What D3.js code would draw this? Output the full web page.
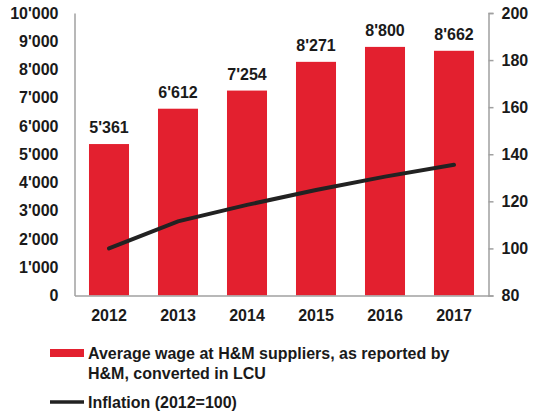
<!DOCTYPE html>
<html><head><meta charset="utf-8">
<script src="https://cdn.jsdelivr.net/npm/d3@7"></script>
<style>body{margin:0;background:#fff}svg text{font-family:"Liberation Sans",Arial,sans-serif;font-weight:bold;fill:#1a1a1a}</style>
</head><body><svg id="c" width="536" height="418"></svg>
<script>
const years = ["2012","2013","2014","2015","2016","2017"];
const wages = [5361, 6612, 7254, 8271, 8800, 8662];
const inflation = [100, 111.5, 118.5, 124.8, 130.5, 135.5];
const leftTicks = [0,1000,2000,3000,4000,5000,6000,7000,8000,9000,10000];
const rightTicks = [80,100,120,140,160,180,200];
const legendLabels = ["Average wage at H&M suppliers, as reported by", "H&M, converted in LCU", "Inflation (2012=100)"];

const svg = d3.select("#c");
const x0 = 74.5, x1 = 488.5, yTop = 13, yBot = 295.5;
const fmt = v => { const s = String(v); return s.length > 3 ? s.slice(0, -3) + "'" + s.slice(-3) : s; };

const x = d3.scaleBand().domain(years).range([x0, x1]).paddingInner(0.42).paddingOuter(0.21);
const yL = d3.scaleLinear().domain([0, 10000]).range([yBot, yTop]);
const yR = d3.scaleLinear().domain([80, 200]).range([yBot, yTop]);

// bars
svg.selectAll("rect.bar").data(wages).join("rect")
  .attr("class","bar")
  .attr("x",(d,i)=>x(years[i])).attr("width",x.bandwidth())
  .attr("y",d=>yL(d)).attr("height",d=>yBot-yL(d))
  .attr("fill","#E3202F");

// value labels
svg.selectAll("text.val").data(wages).join("text")
  .attr("class","val")
  .attr("x",(d,i)=>x(years[i])+x.bandwidth()/2)
  .attr("y",d=>yL(d)-11)
  .attr("text-anchor","middle").attr("font-size",16)
  .text(d=>fmt(d));

// axes
const gray = "#a0a0a0";
const axL = svg.append("g").attr("transform",`translate(${x0},0)`)
  .call(d3.axisLeft(yL).tickValues(leftTicks).tickSize(0).tickPadding(16).tickFormat(fmt));
axL.select(".domain").attr("stroke",gray).attr("stroke-width",1.5);
axL.selectAll("text").attr("font-size",16).attr("font-family",null);

const axR = svg.append("g").attr("transform",`translate(${x1},0)`)
  .call(d3.axisRight(yR).tickValues(rightTicks).tickSizeInner(5).tickSizeOuter(5).tickPadding(8));
axR.select(".domain").attr("stroke",gray).attr("stroke-width",1.5);
axR.selectAll("line").attr("stroke",gray).attr("stroke-width",1.5);
axR.selectAll("text").attr("font-size",16).attr("font-family",null);

const axB = svg.append("g").attr("transform",`translate(0,${yBot})`)
  .call(d3.axisBottom(x).tickSize(0).tickPadding(14));
axB.select(".domain").attr("stroke",gray).attr("stroke-width",1.5);
axB.selectAll("text").attr("font-size",16).attr("font-family",null);

// line
const line = d3.line().x((d,i)=>x(years[i])+x.bandwidth()/2).y(d=>yR(d));
svg.append("path").datum(inflation).attr("d",line)
  .attr("fill","none").attr("stroke","#222").attr("stroke-width",4).attr("stroke-linecap","round");

// legend
svg.append("rect").attr("x",50).attr("y",349).attr("width",34).attr("height",8).attr("fill","#E3202F");
svg.append("text").attr("x",88).attr("y",359).attr("font-size",16).text(legendLabels[0]);
svg.append("text").attr("x",88).attr("y",379).attr("font-size",16).text(legendLabels[1]);
svg.append("line").attr("x1",50).attr("x2",84).attr("y1",402).attr("y2",402).attr("stroke","#222").attr("stroke-width",3.5);
svg.append("text").attr("x",88).attr("y",408).attr("font-size",16).text(legendLabels[2]);
</script></body></html>
